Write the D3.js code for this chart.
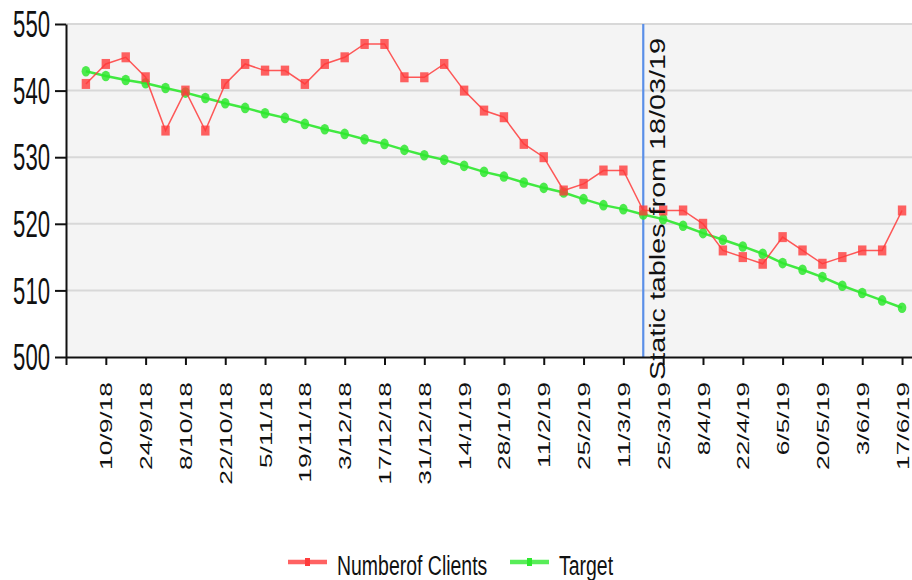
<!DOCTYPE html>
<html>
<head>
<meta charset="utf-8">
<script src="https://cdn.jsdelivr.net/npm/d3@7"></script>
<style>
  html, body { margin: 0; padding: 0; background: #fff; }
  svg { display: block; font-family: "Liberation Sans", Arial, sans-serif; }
</style>
</head>
<body>
<svg id="chart" width="912" height="580"></svg>
<script>
// ---- data ----
const weeks = [
  "2018-09-03","2018-09-10","2018-09-17","2018-09-24","2018-10-01","2018-10-08","2018-10-15",
  "2018-10-22","2018-10-29","2018-11-05","2018-11-12","2018-11-19","2018-11-26","2018-12-03",
  "2018-12-10","2018-12-17","2018-12-24","2018-12-31","2019-01-07","2019-01-14","2019-01-21",
  "2019-01-28","2019-02-04","2019-02-11","2019-02-18","2019-02-25","2019-03-04","2019-03-11",
  "2019-03-18","2019-03-25","2019-04-01","2019-04-08","2019-04-15","2019-04-22","2019-04-29",
  "2019-05-06","2019-05-13","2019-05-20","2019-05-27","2019-06-03","2019-06-10","2019-06-17"
];
const numberOfClients = [
  541,544,545,542,534,540,534,541,544,543,543,541,544,545,547,547,542,542,544,540,537,
  536,532,530,525,526,528,528,522,522,522,520,516,515,514,518,516,514,515,516,516,522
];
const target = [
  542.9,542.2,541.6,541.1,540.4,539.7,538.9,538.1,537.4,536.6,535.9,535.0,534.2,533.5,
  532.7,532.0,531.1,530.3,529.6,528.7,527.8,527.1,526.2,525.4,524.7,523.7,522.8,522.2,
  521.4,520.7,519.7,518.6,517.6,516.6,515.5,514.1,513.1,512.0,510.7,509.6,508.5,507.4
];
const xTickDates = [
  "2018-08-27","2018-09-10","2018-09-24","2018-10-08","2018-10-22","2018-11-05","2018-11-19",
  "2018-12-03","2018-12-17","2018-12-31","2019-01-14","2019-01-28","2019-02-11","2019-02-25",
  "2019-03-11","2019-03-25","2019-04-08","2019-04-22","2019-05-06","2019-05-20","2019-06-03",
  "2019-06-17"
];
const xTickLabels = [
  "","10/9/18","24/9/18","8/10/18","22/10/18","5/11/18","19/11/18","3/12/18","17/12/18",
  "31/12/18","14/1/19","28/1/19","11/2/19","25/2/19","11/3/19","25/3/19","8/4/19","22/4/19",
  "6/5/19","20/5/19","3/6/19","17/6/19"
];
const yTicks = [500, 510, 520, 530, 540, 550];
const xDomain = ["2018-08-27", "2019-06-20T12:00"];
const markerDate = "2019-03-18";
const markerLabel = "Static tables from 18/03/19";
const seriesNames = ["Numberof Clients", "Target"];

// ---- layout ----
const parse = s => new Date(s.length > 10 ? s + ":00Z" : s + "T00:00:00Z");
const M = { left: 66, right: 912, top: 24, bottom: 357 };
const svg = d3.select("#chart");

const x = d3.scaleUtc().domain(xDomain.map(parse)).range([M.left, M.right]);
const y = d3.scaleLinear().domain([500, 550]).range([M.bottom, M.top]);

const RED = "#ff3b3b", GREEN = "#2ee82e";

// plot background
svg.append("rect").attr("x", M.left).attr("y", M.top)
  .attr("width", M.right - M.left).attr("height", M.bottom - M.top).attr("fill", "#f4f4f4");

// grid
svg.append("g").selectAll("line").data(yTicks.filter(v => v !== 500)).join("line")
  .attr("x1", M.left).attr("x2", M.right)
  .attr("y1", d => y(d)).attr("y2", d => y(d))
  .attr("stroke", "#d8d8d8").attr("stroke-width", 2);

// vertical marker line
svg.append("line")
  .attr("x1", x(parse(markerDate))).attr("x2", x(parse(markerDate)))
  .attr("y1", M.top).attr("y2", M.bottom)
  .attr("stroke", "#5a8fe8").attr("stroke-width", 2.2);

// y axis
const yAxis = d3.axisLeft(y).tickValues(yTicks).tickSize(11).tickSizeOuter(0).tickFormat(d3.format("d"));
const gy = svg.append("g").attr("transform", `translate(${M.left},0)`).call(yAxis);
gy.select(".domain").attr("stroke", "#111").attr("stroke-width", 2);
gy.selectAll(".tick line").attr("stroke", "#111").attr("stroke-width", 2);
gy.selectAll(".tick text")
  .attr("font-size", 37.5).attr("fill", "#111")
  .attr("text-anchor", "end").attr("x", 0).attr("dy", "0.34em")
  .attr("transform", "translate(-16,0) scale(0.59,1)");

// x axis
const xAxis = d3.axisBottom(x).tickValues(xTickDates.map(parse)).tickSize(8).tickSizeOuter(0)
  .tickFormat((d, i) => xTickLabels[i]);
const gx = svg.append("g").attr("transform", `translate(0,${M.bottom})`).call(xAxis);
gx.select(".domain").attr("stroke", "#111").attr("stroke-width", 2);
gx.selectAll(".tick line").attr("stroke", "#111").attr("stroke-width", 2);
gx.selectAll(".tick text")
  .attr("font-size", 16.8).attr("fill", "#111")
  .attr("text-anchor", "end").attr("x", 0).attr("y", 0).attr("dy", "0.36em")
  .attr("transform", "translate(0,25) rotate(-90) scale(1.57,1)");

// series
const pts = (vals) => weeks.map((w, i) => [x(parse(w)), y(vals[i])]);
const line = d3.line();

const redPts = pts(numberOfClients);
const greenPts = pts(target);

svg.append("path").attr("d", line(greenPts)).attr("fill", "none")
  .attr("stroke", GREEN).attr("stroke-width", 2.5).attr("stroke-opacity", 0.9);
svg.append("g").selectAll("ellipse").data(greenPts).join("ellipse")
  .attr("cx", d => d[0]).attr("cy", d => d[1]).attr("rx", 4.3).attr("ry", 5.3)
  .attr("fill", GREEN).attr("fill-opacity", 0.85);

svg.append("path").attr("d", line(redPts)).attr("fill", "none")
  .attr("stroke", RED).attr("stroke-width", 1.5).attr("stroke-opacity", 0.85);
svg.append("g").selectAll("rect").data(redPts).join("rect")
  .attr("x", d => d[0] - 4.2).attr("y", d => d[1] - 5).attr("width", 8.4).attr("height", 10)
  .attr("fill", RED).attr("fill-opacity", 0.8);

// marker label
svg.append("text")
  .attr("font-size", 22.3).attr("fill", "#111").attr("text-anchor", "start")
  .attr("transform", `translate(${x(parse(markerDate)) + 22},380) rotate(-90) scale(1.29,1)`)
  .text(markerLabel);

// legend
const legY = 562;
const legend = [
  { name: seriesNames[0], color: RED, x0: 288, tx: 337 },
  { name: seriesNames[1], color: GREEN, x0: 510, tx: 559 }
];
const lg = svg.append("g");
legend.forEach(l => {
  lg.append("line").attr("x1", l.x0).attr("x2", l.x0 + 39).attr("y1", legY).attr("y2", legY)
    .attr("stroke", l.color).attr("stroke-width", 4.5).attr("stroke-opacity", 0.8);
  lg.append("rect").attr("x", l.x0 + 17).attr("y", legY - 4).attr("width", 5).attr("height", 8)
    .attr("fill", l.color);
  lg.append("text").attr("font-size", 28).attr("fill", "#111")
    .attr("transform", `translate(${l.tx},575) scale(0.695,1)`)
    .text(l.name);
});
</script>
</body>
</html>
